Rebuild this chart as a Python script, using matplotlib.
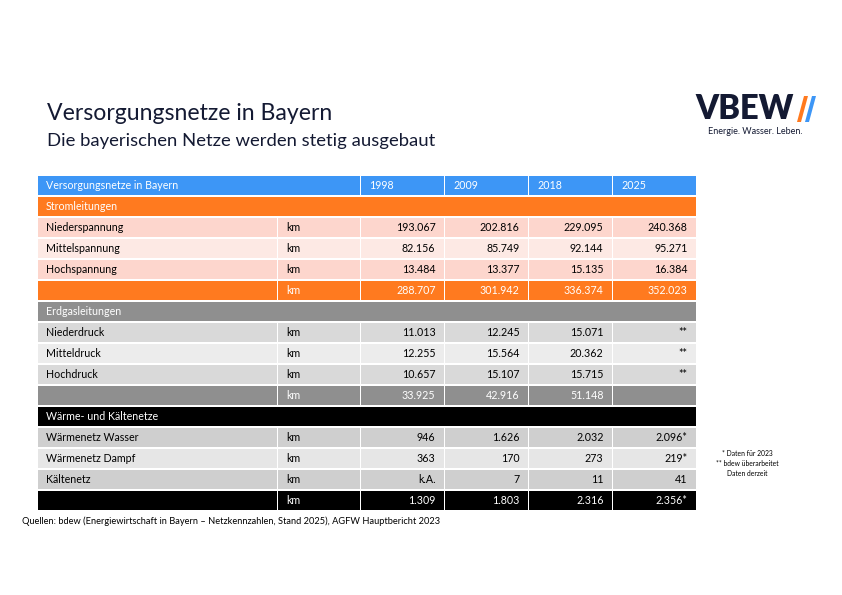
import matplotlib.pyplot as plt
from matplotlib.patches import Rectangle, Polygon

plt.rcParams['font.family'] = ['Lato', 'DejaVu Sans']

# Daten
years = ['1998', '2009', '2018', '2025']
unit = 'km'

strom_labels = ['Niederspannung', 'Mittelspannung', 'Hochspannung']
strom_values = [['193.067', '202.816', '229.095', '240.368'],
                ['82.156', '85.749', '92.144', '95.271'],
                ['13.484', '13.377', '15.135', '16.384']]
strom_total = ['288.707', '301.942', '336.374', '352.023']

gas_labels = ['Niederdruck', 'Mitteldruck', 'Hochdruck']
gas_values = [['11.013', '12.245', '15.071', '**'],
              ['12.255', '15.564', '20.362', '**'],
              ['10.657', '15.107', '15.715', '**']]
gas_total = ['33.925', '42.916', '51.148', '']

waerme_labels = ['Wärmenetz Wasser', 'Wärmenetz Dampf', 'Kältenetz']
waerme_values = [['946', '1.626', '2.032', '2.096*'],
                 ['363', '170', '273', '219*'],
                 ['k.A.', '7', '11', '41']]
waerme_total = ['1.309', '1.803', '2.316', '2.356*']

# Abschnitte: Titel, Zeilen, Summe, Farben
sections = [
    ('Stromleitungen', strom_labels, strom_values, strom_total,
     '#ff7a1f', 'white', ['#fdd6cd', '#fde9e4'], 'black'),
    ('Erdgasleitungen', gas_labels, gas_values, gas_total,
     '#8f8f8f', 'white', ['#d9d9d9', '#ececec'], 'black'),
    ('Wärme- und Kältenetze', waerme_labels, waerme_values, waerme_total,
     '#000000', 'white', ['#cfcfcf', '#e6e6e6'], 'black'),
]

fig = plt.figure(figsize=(8.42, 5.95), dpi=100)
ax = fig.add_axes([0, 0, 1, 1])
ax.set_xlim(0, 842)
ax.set_ylim(595, 0)
ax.axis('off')

col_x = [38, 278, 361, 445, 529, 613, 697]
row_top = 176
row_h = 21.0
cell_h = 19.0
gap = 1.5
fs = 7.7


def cell(x0, x1, y, color):
    ax.add_patch(Rectangle((x0, y), x1 - x0 - gap, cell_h, color=color, lw=0))


def row(y, label, u, vals, bg, fg):
    cell(col_x[0], col_x[1], y, bg)
    cell(col_x[1], col_x[2], y, bg)
    ax.text(col_x[0] + 8, y + cell_h / 2, label, color=fg, fontsize=fs,
            va='center', ha='left')
    ax.text(col_x[1] + 8, y + cell_h / 2, u, color=fg, fontsize=fs,
            va='center', ha='left')
    for j, v in enumerate(vals):
        cell(col_x[2 + j], col_x[3 + j], y, bg)
        ax.text(col_x[3 + j] - gap - 8, y + cell_h / 2, v, color=fg,
                fontsize=fs, va='center', ha='right')


# Kopfzeile
y = row_top
cell(col_x[0], col_x[2], y, '#3d96f6')
ax.text(col_x[0] + 8, y + cell_h / 2, 'Versorgungsnetze in Bayern',
        color='white', fontsize=fs, va='center')
for j, yr in enumerate(years):
    cell(col_x[2 + j], col_x[3 + j], y, '#3d96f6')
    ax.text(col_x[2 + j] + 8, y + cell_h / 2, yr, color='white',
            fontsize=fs, va='center')

i = 1
for title, labels, values, total, hcol, hfg, rowcols, rfg in sections:
    y = row_top + i * row_h
    cell(col_x[0], col_x[-1], y, hcol)
    ax.text(col_x[0] + 8, y + cell_h / 2, title, color=hfg, fontsize=fs,
            va='center')
    i += 1
    for k, (lab, vals) in enumerate(zip(labels, values)):
        y = row_top + i * row_h
        row(y, lab, unit, vals, rowcols[k % 2], rfg)
        i += 1
    y = row_top + i * row_h
    row(y, '', unit, total, hcol, hfg)
    i += 1

# Titel
ax.text(47, 113, 'Versorgungsnetze in Bayern', fontsize=16.6,
        color='#141a33', va='center', ha='left')
ax.text(47, 141, 'Die bayerischen Netze werden stetig ausgebaut',
        fontsize=13.3, color='#141a33', va='center', ha='left')

# Quellen
ax.text(22, 521, 'Quellen: bdew (Energiewirtschaft in Bayern – Netzkennzahlen, '
        'Stand 2025), AGFW Hauptbericht 2023', fontsize=6.7, color='black',
        va='center', ha='left')

# Fußnoten
ax.text(722, 454, '* Daten für 2023', fontsize=4.9, va='center')
ax.text(716, 464, '** bdew überarbeitet', fontsize=4.9, va='center')
ax.text(727, 474, 'Daten derzeit', fontsize=4.9, va='center')

# Logo
ax.text(695, 109, 'VBEW', fontsize=23.5, weight='heavy', color='#141a33',
        va='center', ha='left')
ax.add_patch(Polygon([[797, 122], [801, 122], [808, 96], [804, 96]],
                     color='#ff7a1f', lw=0))
ax.add_patch(Polygon([[805, 122], [809, 122], [816, 96], [812, 96]],
                     color='#3d96f6', lw=0))
ax.text(755, 131, 'Energie. Wasser. Leben.', fontsize=6.5, color='#141a33',
        va='center', ha='center')

fig.savefig('out.png', dpi=100)
